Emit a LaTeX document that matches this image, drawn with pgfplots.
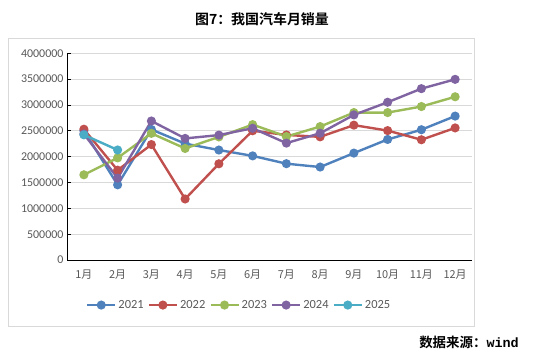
\documentclass[border=0pt]{standalone}
\usepackage{pgfplots}
\pgfplotsset{compat=1.18}
\usepackage{fontspec}
\setmainfont{Carlito}
\newfontfamily\cjk{Noto Sans CJK SC}
\newfontfamily\cjkb{Noto Sans CJK SC Bold}
\newfontfamily\monob{Liberation Mono}
\definecolor{c1}{HTML}{4F81BD}
\definecolor{c2}{HTML}{C0504D}
\definecolor{c3}{HTML}{9BBB59}
\definecolor{c4}{HTML}{8064A2}
\definecolor{c5}{HTML}{4BACC6}
\definecolor{tick}{HTML}{595959}
\definecolor{grid}{HTML}{D9D9D9}
\begin{document}
\begin{tikzpicture}[x=1bp,y=1bp]
\path[use as bounding box] (0,0) rectangle (537,356);
\draw[grid, line width=0.8bp] (8,30) rectangle (474,318);
\node[font=\cjkb\fontsize{14}{16}\selectfont, anchor=center] at (262,337) {图7：我国汽车月销量};
\node[anchor=east, inner sep=0pt] at (519,14) {\cjkb\fontsize{13.5}{15}\selectfont 数据来源：\monob\bfseries\fontsize{13.5}{15}\selectfont wind};
\begin{axis}[
  at={(67bp,96bp)}, anchor=south west,
  width=405bp, height=206.7bp, scale only axis,
  xmin=0.5, xmax=12.5, ymin=0, ymax=4000000,
  xtick={1,...,12},
  xticklabels={1月,2月,3月,4月,5月,6月,7月,8月,9月,10月,11月,12月},
  x tick label style={font=\cjk\fontsize{11}{13}\selectfont, text=tick, anchor=center, yshift=-15bp},
  ytick={0,500000,...,4000000},
  scaled y ticks=false,
  y tick label style={font=\fontsize{12}{14}\selectfont, text=tick, /pgf/number format/fixed, /pgf/number format/1000 sep={}},
  /pgf/number format/assume math mode=true,
  axis x line*=bottom, axis y line*=left,
  axis line style={black, line width=0.9bp},
  x axis line style={-}, y axis line style={-},
  xtick style={draw=none},
  ytick style={black, line width=0.9bp},
  tick align=inside, major tick length=4bp,
  xmajorgrids=false, ymajorgrids=true,
  y grid style={grid, line width=0.8bp},
  every axis plot/.append style={line width=2.4bp, mark=*, mark size=3.3bp, mark options={solid}},
  legend columns=5,
  legend style={at={(0.425,-0.218)}, anchor=center, draw=none, fill=none,
    font=\fontsize{12.5}{14}\selectfont, text=tick,
    /tikz/every even column/.append style={column sep=2bp}},
  legend image code/.code={\draw[#1, mark repeat=2, mark phase=2] plot coordinates {(0bp,0bp) (14bp,0bp) (28bp,0bp)};},
]
\addplot[c1] coordinates {(1,2503000)(2,1455000)(3,2526000)(4,2252000)(5,2128000)(6,2015000)(7,1864000)(8,1799000)(9,2069000)(10,2333000)(11,2521000)(12,2785000)};
\addlegendentry{2021}
\addplot[c2] coordinates {(1,2531000)(2,1738000)(3,2234000)(4,1181000)(5,1862000)(6,2501000)(7,2420000)(8,2383000)(9,2610000)(10,2504000)(11,2327000)(12,2556000)};
\addlegendentry{2022}
\addplot[c3] coordinates {(1,1649000)(2,1976000)(3,2451000)(4,2159000)(5,2382000)(6,2620000)(7,2389000)(8,2582000)(9,2853000)(10,2853000)(11,2970000)(12,3159000)};
\addlegendentry{2023}
\addplot[c4] coordinates {(1,2439000)(2,1584000)(3,2690000)(4,2353000)(5,2417000)(6,2550000)(7,2262000)(8,2453000)(9,2808000)(10,3053000)(11,3316000)(12,3496000)};
\addlegendentry{2024}
\addplot[c5] coordinates {(1,2422000)(2,2129000)};
\addlegendentry{2025}
\end{axis}
\end{tikzpicture}
\end{document}
